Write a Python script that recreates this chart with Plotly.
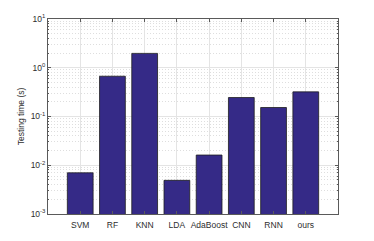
import plotly.graph_objects as go

methods = ["SVM", "RF", "KNN", "LDA", "AdaBoost", "CNN", "RNN", "ours"]
testing_time = [0.0070, 0.67, 1.97, 0.0049, 0.0162, 0.245, 0.153, 0.32]
y_tick_vals = [1e-3, 1e-2, 1e-1, 1e0, 1e1]
y_tick_text = ["10<sup>-3</sup>", "10<sup>-2</sup>", "10<sup>-1</sup>", "10<sup>0</sup>", "10<sup>1</sup>"]
minor_vals = [m * d for d in [1e-3, 1e-2, 1e-1, 1e0] for m in range(2, 10)]

fig = go.Figure()
fig.add_trace(go.Bar(
    x=methods, y=testing_time, width=0.8,
    marker=dict(color="rgb(53,42,135)", line=dict(color="rgb(30,30,30)", width=0.8)),
))

font_family = "Liberation Sans, Arial, sans-serif"
axis_font = dict(family=font_family, size=8.5, color="rgb(45,45,45)")
# page body has an 8px default margin; compensate so the plot area lands where the reference has it
fig.update_layout(
    width=366, height=233,
    margin=dict(l=40, r=36, t=11, b=27),
    paper_bgcolor="white", plot_bgcolor="white",
    showlegend=False,
)
fig.update_xaxes(
    type="category", range=[-1, 8], automargin=False,
    showgrid=True, gridcolor="rgb(228,228,228)", gridwidth=0.7,
    showline=True, linecolor="rgb(90,90,90)", linewidth=0.8, mirror="allticks",
    ticks="inside", ticklen=3, tickcolor="rgb(90,90,90)",
    tickfont=axis_font, zeroline=False, ticklabelstandoff=3,
)
fig.update_yaxes(
    type="log", range=[-3, 1], automargin=False,
    tickmode="array", tickvals=y_tick_vals, ticktext=y_tick_text,
    showgrid=True, gridcolor="rgb(228,228,228)", gridwidth=0.7,
    showline=True, linecolor="rgb(90,90,90)", linewidth=0.8, mirror="allticks",
    ticks="inside", ticklen=3, tickcolor="rgb(90,90,90)",
    tickfont=axis_font,
    minor=dict(tickmode="array", tickvals=minor_vals,
               ticks="inside", ticklen=1.5, tickcolor="rgb(90,90,90)",
               showgrid=True, gridcolor="rgb(222,222,222)", griddash="1px,2px", gridwidth=0.6),
    title=dict(text="Testing time (s)", font=dict(family=font_family, size=8.5, color="rgb(45,45,45)"), standoff=4),
    zeroline=False,
)

fig.write_html("out.html")
